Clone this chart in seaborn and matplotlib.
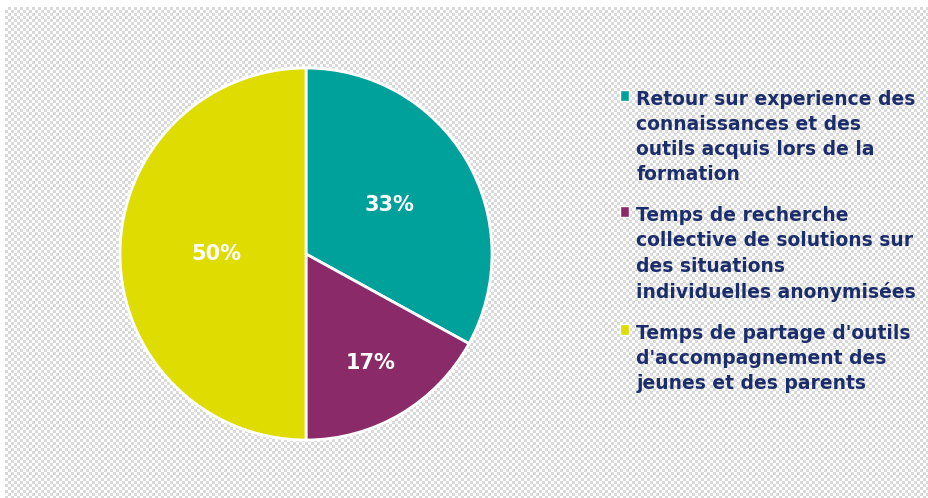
import numpy as np
import matplotlib
matplotlib.use("Agg")
import matplotlib.pyplot as plt
import seaborn as sns

# ── data ──────────────────────────────────────────────
categories = [
    "Retour sur experience des\nconnaissances et des\noutils acquis lors de la\nformation",
    "Temps de recherche\ncollective de solutions sur\ndes situations\nindividuelles anonymisées",
    "Temps de partage d'outils\nd'accompagnement des\njeunes et des parents",
]
shares = [33, 17, 50]
colors = ["#00A19B", "#8B2A69", "#DEDC00"]

sns.set_theme(style="white")
plt.rcParams["font.family"] = ["DejaVu Sans"]

W, H = 929, 498
fig = plt.figure(figsize=(W / 100, H / 100), dpi=100)

# checker background (transparent look) with thin white strip top/left
bg = fig.add_axes([0, 0, 1, 1])
cell = 3
ny, nx = H // cell + 1, W // cell + 1
yy, xx = np.indices((ny, nx))
checker = ((yy + xx) % 2).astype(float)
bg.imshow(checker, cmap=matplotlib.colors.ListedColormap(["#ffffff", "#d9d9d9"]),
          interpolation="nearest", aspect="auto",
          extent=[5, 5 + nx * cell, H - 7 - ny * cell, H - 7])
bg.set_xlim(0, W)
bg.set_ylim(0, H)
bg.axis("off")

# pie: center (306, 254) px, radius 186 px
cx, cy, r = 306, 254, 186
box = r * 1.25
ax = fig.add_axes([(cx - box) / W, (H - cy - box) / H, 2 * box / W, 2 * box / H])
wedges, texts = ax.pie(
    shares,
    colors=colors,
    startangle=90,
    counterclock=False,
    wedgeprops={"edgecolor": "white", "linewidth": 2.0},
)

# percent labels, each at its own distance from the center
label_dist = [0.52, 0.68, 0.48]
for w, val, d in zip(wedges, shares, label_dist):
    mid = np.deg2rad((w.theta1 + w.theta2) / 2)
    ax.text(d * np.cos(mid), d * np.sin(mid), f"{val}%",
            ha="center", va="center", color="white",
            fontsize=15, fontweight="bold")

leg = fig.legend(
    wedges, categories,
    loc="upper left",
    bbox_to_anchor=(620 / W, 1 - 90 / H),
    frameon=False,
    fontsize=13.5,
    handlelength=0.5,
    handleheight=0.5,
    handletextpad=0.38,
    labelspacing=1.2,
    borderpad=0,
    borderaxespad=0,
)
for t in leg.get_texts():
    t.set_color("#1B2D6B")
    t.set_fontweight("semibold")
    t.set_linespacing(1.4)
for h in leg.legend_handles:
    h.set_linewidth(1.0)

# put each square next to the first line of its label
for col in leg._legend_handle_box.get_children():
    for item in col.get_children():
        item.align = "top"

plt.savefig("out.png", dpi=100)
